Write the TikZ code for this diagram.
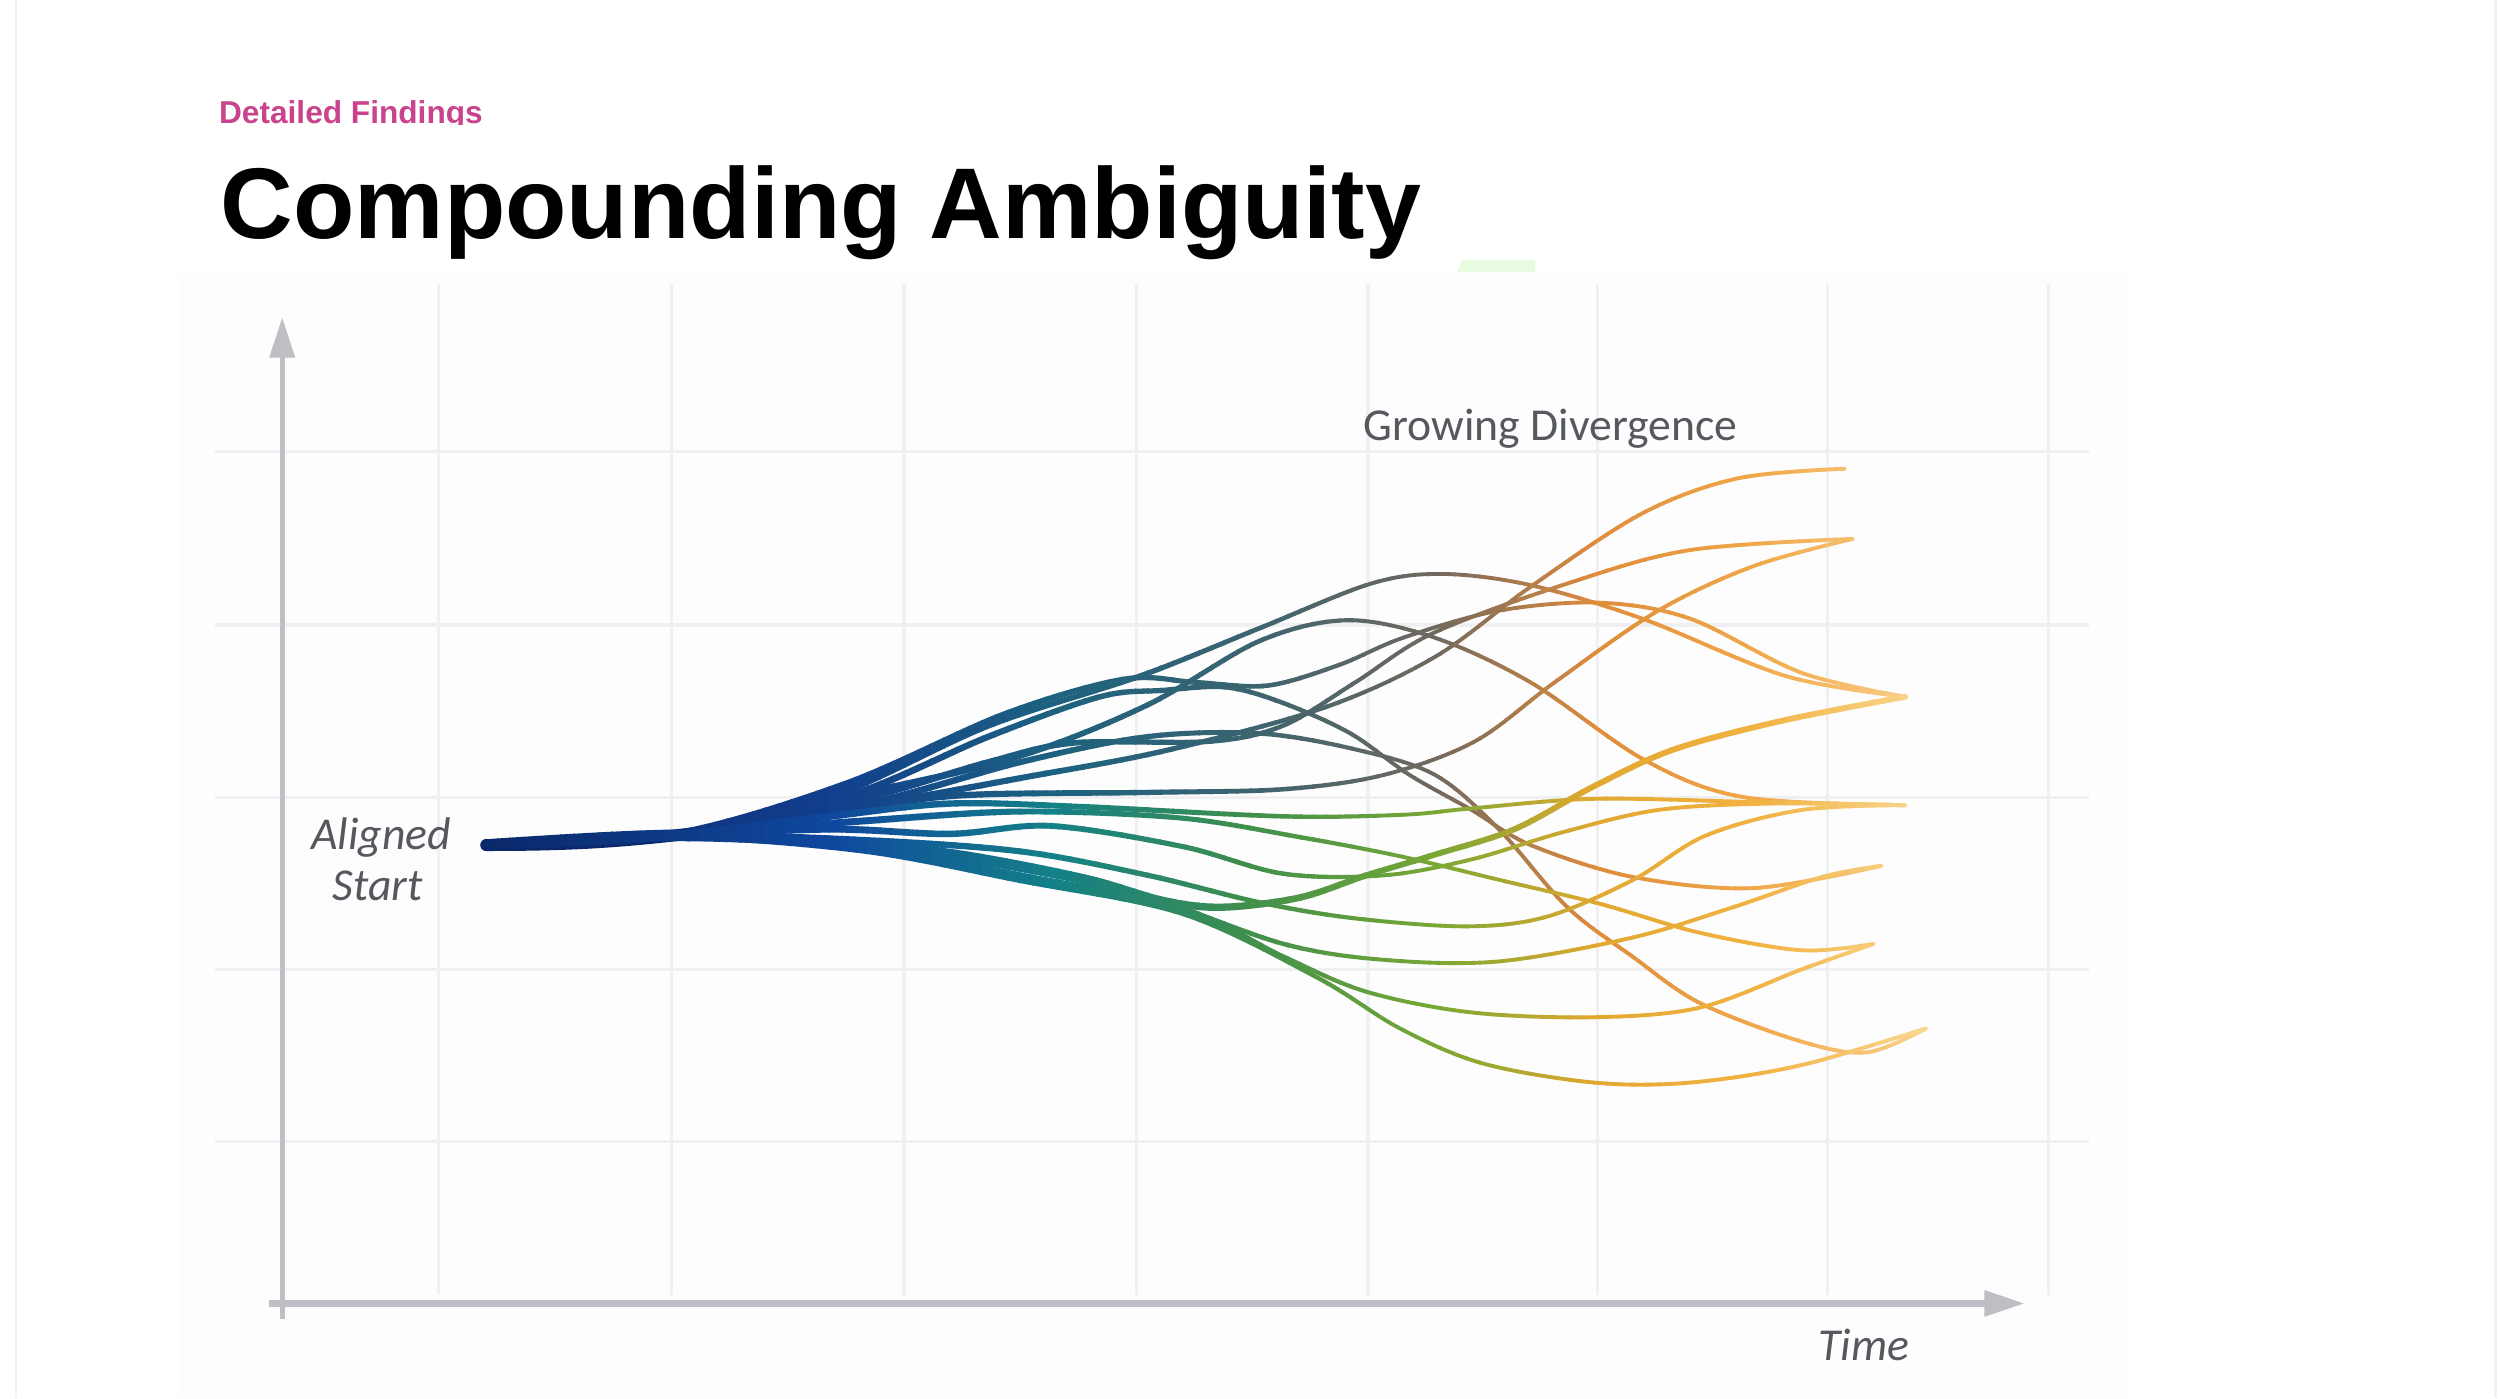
\documentclass[tikz,border=0pt]{standalone}
\usepackage{fontspec}
\setmainfont{Liberation Sans}
\newfontfamily\notefont{Carlito}
\usetikzlibrary{arrows.meta}

\definecolor{kicker}{RGB}{201,68,140}
\definecolor{axisgray}{RGB}{190,190,196}
\definecolor{gridgray}{RGB}{240,240,243}
\definecolor{notegray}{RGB}{85,88,94}
\definecolor{mint}{RGB}{232,251,224}
\definecolor{navy}{RGB}{10,40,105}
% lower strands: blue -> teal -> green -> gold
\definecolor{lA}{RGB}{10,40,105}
\definecolor{lB}{RGB}{15,72,158}
\definecolor{lC}{RGB}{20,128,135}
\definecolor{lD}{RGB}{62,142,78}
\definecolor{lE}{RGB}{120,168,52}
\definecolor{lF}{RGB}{226,168,48}
\definecolor{lG}{RGB}{242,178,66}
\definecolor{lH}{RGB}{250,218,150}
% upper strands: blue -> slate -> orange
\definecolor{uA}{RGB}{10,40,105}
\definecolor{uB}{RGB}{18,62,142}
\definecolor{uC}{RGB}{28,98,128}
\definecolor{uD}{RGB}{58,100,112}
\definecolor{uE}{RGB}{112,104,94}
\definecolor{uF}{RGB}{224,140,60}
\definecolor{uG}{RGB}{240,168,72}
\definecolor{uH}{RGB}{250,212,145}

\tikzset{
  gridline/.style={draw=gridgray, line width=0.9pt},
  axis/.style={draw=axisgray, -{Triangle[length=11.5pt,width=7pt]}},
  strand/.style={line width=\lw pt, line cap=round, line join=round},
  thickstrand/.style={strand, line width=1.5*\lw pt},
  note/.style={font=\notefont\fontsize{13}{15}\selectfont, text=notegray, inner sep=0pt},
}

% colour of a band, from its x position \bx
\newcommand\mixc[4]{%
  \pgfmathtruncatemacro\bp{max(0,min(100,(\bx-#1)/(#2-#1)*100))}%
  \colorlet{lowc}{l#4!\bp!l#3}\colorlet{upc}{u#4!\bp!u#3}}
\newcommand\pickcol{%
  \ifdim\bx pt<520pt \mixc{300}{520}{A}{B}\else
  \ifdim\bx pt<660pt \mixc{520}{660}{B}{C}\else
  \ifdim\bx pt<780pt \mixc{660}{780}{C}{D}\else
  \ifdim\bx pt<900pt \mixc{780}{900}{D}{E}\else
  \ifdim\bx pt<1000pt \mixc{900}{1000}{E}{F}\else
  \ifdim\bx pt<1100pt \mixc{1000}{1100}{F}{G}\else
  \mixc{1100}{1215}{G}{H}\fi\fi\fi\fi\fi\fi}

\newcommand\upperstrands{%
  \draw[strand, upc] plot[smooth, tension=0.55] coordinates {(s0) (420,524) (520,500) (620,455) (715,424) (790,394) (860,366) (905,360) (960,367) (1030,388) (1120,424) (e3)};
  \draw[strand, upc] plot[smooth, tension=0.55] coordinates {(s0) (420,524) (530,492) (630,448) (705,426) (750,428) (795,430) (840,417) (880,400) (940,383) (1003,378) (1060,388) (1130,422) (e3)};
  \draw[strand, upc] plot[smooth, tension=0.55] coordinates {(s0) (420,524) (540,498) (640,474) (720,442) (790,402) (845,389) (900,400) (960,428) (1032,477) (1094,500) (e4)};
  \draw[strand, upc] plot[smooth, tension=0.55] coordinates {(s0) (420,524) (540,506) (640,488) (730,471) (830,444) (900,412) (960,368) (1030,322) (1090,300) (e1)};
  \draw[strand, upc] plot[smooth, tension=0.55] coordinates {(s0) (420,524) (520,510) (600,499) (720,497) (805,495) (868,486) (925,465) (975,428) (1040,383) (1100,355) (e2)};
  \draw[strand, upc] plot[smooth, tension=0.55] coordinates {(s0) (420,524) (540,501) (620,478) (673,466) (759,465) (805,455) (850,428) (899,397) (983,366) (1060,345) (e2)};
  \draw[strand, upc] plot[smooth, tension=0.55] coordinates {(s0) (420,524) (530,500) (620,462) (690,437) (729,433) (769,431) (805,441) (847,460) (884,486) (923,508) (960,530) (1024,550) (1100,557) (e5)};
  \draw[strand, upc] plot[smooth, tension=0.55] coordinates {(s0) (420,524) (540,505) (640,478) (720,462) (790,460) (850,470) (900,486) (940,520) (983,569) (1024,600) (1066,629) (1129,653) (1171,660) (e7)};
}
\newcommand\lowerstrands{%
  \draw[strand, lowc] plot[smooth, tension=0.55] coordinates {(s0) (420,524) (520,512) (596,504) (679,506) (805,512) (880,511) (923,507) (1000,501) (1100,503) (e4)};
  \draw[strand, lowc] plot[smooth, tension=0.55] coordinates {(s0) (420,524) (520,520) (596,523) (659,518) (742,531) (805,548) (868,549) (923,539) (980,522) (1040,508) (1110,504) (e4)};
  \draw[strand, lowc] plot[smooth, tension=0.55] coordinates {(s0) (420,524) (540,527) (640,534) (720,549) (790,566) (850,576) (920,581) (970,575) (1024,552) (1070,524) (1130,508) (e4)};
  \draw[strand, lowc] plot[smooth, tension=0.55] coordinates {(s0) (420,524) (540,515) (640,509) (740,513) (815,525) (878,537) (941,552) (1004,567) (1066,585) (1130,596) (e6)};
  \draw[strand, lowc] plot[smooth, tension=0.55] coordinates {(s0) (420,524) (540,529) (640,545) (721,563) (805,592) (868,602) (940,603) (1024,588) (1087,569) (1143,550) (e5)};
  \draw[strand, lowc] plot[smooth, tension=0.55] coordinates {(s0) (420,524) (540,531) (640,549) (742,570) (805,600) (857,622) (923,635) (1000,638) (1066,632) (1130,608) (e6)};
  \draw[strand, lowc] plot[smooth, tension=0.55] coordinates {(s0) (420,524) (540,533) (640,552) (742,573) (826,613) (878,645) (930,667) (1000,679) (1060,679) (1130,668) (e7)};
  \draw[thickstrand, lowc] plot[smooth, tension=0.55] coordinates {(s0) (420,524) (520,528) (600,536) (680,551) (730,565) (767,569) (815,563) (857,549) (900,536) (950,520) (1000,493) (1050,470) (1118,452) (e3)};
}

\begin{document}
\begin{tikzpicture}[x=0.15944mm, y=-0.15944mm]
  \useasboundingbox (0,0) rectangle (1568,877);
  \fill[white] (0,0) rectangle (1568,877);
  % slide edges and chart backdrop
  \draw[black!5, line width=0.8pt] (10,0) -- (10,877);
  \draw[black!5, line width=0.8pt] (1565,0) -- (1565,877);
  \fill[black!0.7] (112,172) rectangle (1335,877);
  \fill[mint] (917,163) -- (963,163) -- (963,170.5) -- (914,170.5) -- cycle;

  % header
  \begin{scope}
    \clip (120,50) rectangle (330,78.3);
    \node[anchor=base west, inner sep=0pt, text=kicker,
          font=\bfseries\fontsize{9}{11}\selectfont] (kick) at (137,77.5) {Detailed Findings};
  \end{scope}
  \node[anchor=base west, inner sep=0pt,
        font=\bfseries\fontsize{28.6}{34}\selectfont] (title) at (138,149.3) {Compounding Ambiguity};

  % grid
  \foreach \gx in {275,421,567,713,858,1002,1146,1285}
    \draw[gridline] (\gx,178) -- (\gx,812);
  \foreach \gy in {283,392,500,608,716}
    \draw[gridline] (135,\gy) -- (1310,\gy);

  % axes
  \coordinate (ytip) at (177,199);
  \coordinate (yfoot) at (177,827);
  \coordinate (xfoot) at (169,817.5);
  \coordinate (xtip) at (1270,817.5);
  \draw[axis, line width=1.5pt] (yfoot) -- (ytip);
  \draw[axis, line width=2pt] (xfoot) -- (xtip);

  % labels
  \node[note, anchor=base, font=\notefont\itshape\fontsize{13}{15}\selectfont] (aligned) at (239,532.6) {Aligned};
  \node[note, anchor=base, font=\notefont\itshape\fontsize{13}{15}\selectfont] (start) at (237,565) {Start};
  \node[note, anchor=base west] (growing) at (855,276) {Growing Divergence};
  \node[note, anchor=base west, font=\notefont\itshape\fontsize{13}{15}\selectfont] (timelbl) at (1140,853) {Time};

  % strand ends
  \coordinate (s0) at (305,530);
  \coordinate (e1) at (1157,294);
  \coordinate (e2) at (1162,338);
  \coordinate (e3) at (1195,437);
  \coordinate (e4) at (1195,505);
  \coordinate (e5) at (1180,543);
  \coordinate (e6) at (1175,592);
  \coordinate (e7) at (1208,645);

  % aligned start
  \draw[navy, line width=3.4pt, line cap=round] (s0) .. controls (360,530) and (390,528) .. (440,522);

  % strands, coloured band by band
  \foreach \xa in {296,304,...,1216}{%
    \pgfmathsetmacro\bx{\xa+4}%
    \pickcol
    \pgfmathsetmacro\lw{max(1.1,min(2.2,2.2-(\bx-450)*0.0026))}%
    \begin{scope}
      \clip (\xa-0.5,150) rectangle (\xa+8.5,730);
      \upperstrands
      \lowerstrands
    \end{scope}
  }
\end{tikzpicture}
\end{document}
